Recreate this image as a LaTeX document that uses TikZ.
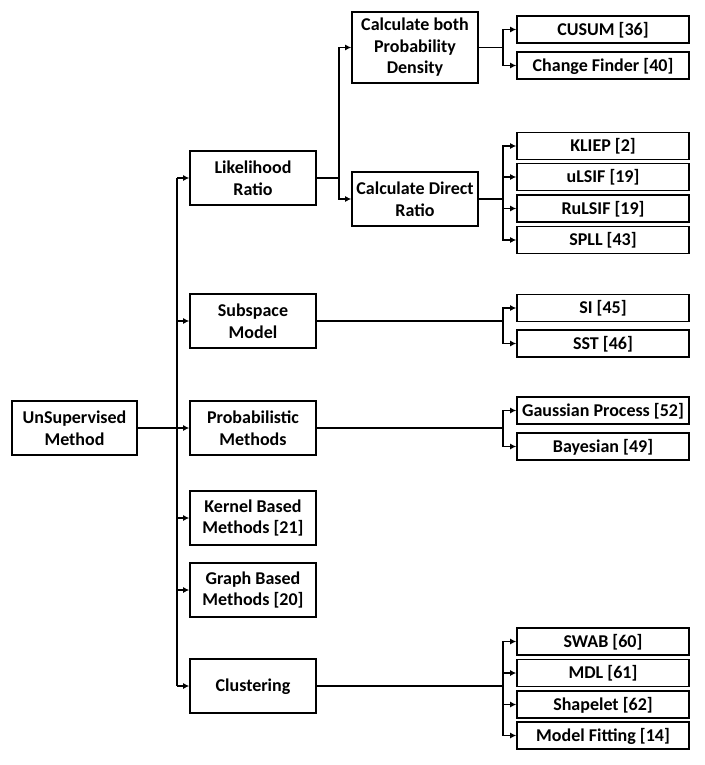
\documentclass[tikz,border=0pt]{standalone}
\usepackage{fontspec}
\setmainfont{Carlito}
\usetikzlibrary{arrows.meta,calc}
\begin{document}
\begin{tikzpicture}[x=1pt,y=-1pt,
  base/.style={draw=black,line width=1.6pt,fill=white,inner sep=1pt,
    font=\bfseries\fontsize{18}{21.5}\selectfont},
  box/.style={base,align=center},
  mid/.style={box,minimum width=126pt,minimum height=54pt},
  leaf/.style={base,minimum width=172pt,minimum height=27pt,text height=11.6pt,text depth=0pt},
  conn/.style={line width=1.6pt},
  arr/.style={conn,-{Latex[length=6pt,width=6pt]}}]
\useasboundingbox (0,0) rectangle (704,765);
% root
\node[box,minimum width=125pt,minimum height=54pt] (root) at (74.5,428) {UnSupervised\\Method};
% level 1
\node[mid] (lik) at (253,178) {Likelihood\\Ratio};
\node[mid] (sub) at (253,321) {Subspace\\Model};
\node[mid] (prob) at (253,428) {Probabilistic\\Methods};
\node[mid] (ker) at (253,518) {Kernel Based\\Methods [21]};
\node[mid] (gra) at (253,590) {Graph Based\\Methods [20]};
\node[base,minimum width=126pt,minimum height=54pt,text height=11.6pt,text depth=0pt] (clu) at (253,686) {Clustering};
% level 2
\node[box,minimum width=126pt,minimum height=71pt] (cdpd) at (415,47.5) {Calculate both\\Probability\\Density};
\node[mid] (cdr) at (415,199) {Calculate Direct\\Ratio};
% leaves
\node[leaf] (cusum) at (603,29.5) {CUSUM [36]};
\node[leaf] (cf) at (603,65.5) {Change Finder [40]};
\node[leaf] (kliep) at (603,146) {KLIEP [2]};
\node[leaf] (ulsif) at (603,177) {uLSIF [19]};
\node[leaf] (rulsif) at (603,208.5) {RuLSIF [19]};
\node[leaf] (spll) at (603,240) {SPLL [43]};
\node[leaf] (si) at (603,308) {SI [45]};
\node[leaf] (sst) at (603,343.5) {SST [46]};
\node[leaf] (gp) at (603,410.5) {Gaussian Process [52]};
\node[leaf] (bay) at (603,446.5) {Bayesian [49]};
\node[leaf] (swab) at (603,641.5) {SWAB [60]};
\node[leaf] (mdl) at (603,673) {MDL [61]};
\node[leaf] (shp) at (603,704.5) {Shapelet [62]};
\node[leaf] (mf) at (603,735.5) {Model Fitting [14]};
% trunk
\coordinate (tr) at (177,178);
\coordinate (tb) at (177,686);
\draw[conn] (tr) -- (tb);
\draw[arr] (root.east) -- (prob.west);
\foreach \n in {lik,sub,ker,gra,clu}{\draw[arr] (\n.west -| tr) -- (\n.west);}
% likelihood branch
\coordinate (b1) at (339,178);
\draw[conn] (lik.east) -- (b1);
\draw[arr] (b1) |- (cdpd.west);
\draw[arr] (b1) |- (cdr.west);
% cdpd branch
\coordinate (b2) at (503,47.5);
\draw[conn] (cdpd.east) -- (b2);
\foreach \n in {cusum,cf}{\draw[arr] (b2) |- (\n.west);}
% cdr branch
\coordinate (b3) at (503,199);
\draw[conn] (cdr.east) -- (b3);
\foreach \n in {kliep,ulsif,rulsif,spll}{\draw[arr] (b3) |- (\n.west);}
% subspace branch
\coordinate (b4) at (503,321);
\draw[conn] (sub.east) -- (b4);
\foreach \n in {si,sst}{\draw[arr] (b4) |- (\n.west);}
% probabilistic branch
\coordinate (b5) at (503,428);
\draw[conn] (prob.east) -- (b5);
\foreach \n in {gp,bay}{\draw[arr] (b5) |- (\n.west);}
% clustering branch
\coordinate (b6) at (503,686);
\draw[conn] (clu.east) -- (b6);
\foreach \n in {swab,mdl,shp,mf}{\draw[arr] (b6) |- (\n.west);}
\end{tikzpicture}
\end{document}
